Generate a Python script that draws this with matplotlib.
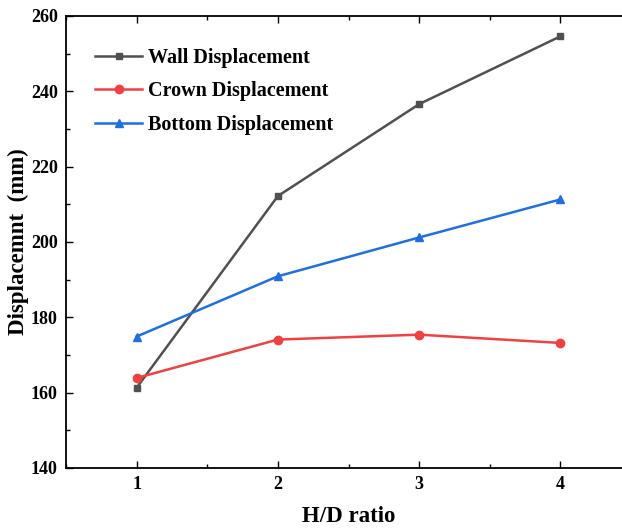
import matplotlib
matplotlib.use("Agg")
import matplotlib.pyplot as plt
from matplotlib.ticker import MultipleLocator

# H/D ratio vs displacement (mm)
hd_ratio = [1, 2, 3, 4]
wall = [161.3, 212.2, 236.6, 254.6]
crown = [163.9, 174.1, 175.4, 173.2]
bottom = [174.9, 190.9, 201.2, 211.3]

plt.rcParams['font.family'] = ['Liberation Serif', 'DejaVu Serif']
plt.rcParams['font.weight'] = 'bold'

fig = plt.figure(figsize=(6.22, 5.31), dpi=100)
ax = fig.add_axes([66 / 622, 63 / 531, 565 / 622, 452 / 531])

ax.plot(hd_ratio, wall, color='#505050', linewidth=1.8, marker='s', markersize=5, label='Wall Displacement')
ax.plot(hd_ratio, crown, color='#f04040', linewidth=1.8, marker='o', markersize=6, label='Crown Displacement')
ax.plot(hd_ratio, bottom, color='#1f6fe0', linewidth=1.8, marker='^', markersize=6, label='Bottom Displacement')

ax.set_xlim(0.5, 4.5)
ax.set_ylim(140, 260)
ax.set_xticks(hd_ratio)
ax.xaxis.set_minor_locator(MultipleLocator(0.5))
ax.yaxis.set_major_locator(MultipleLocator(20))
ax.yaxis.set_minor_locator(MultipleLocator(10))
ax.tick_params(which='both', direction='in', top=True, right=False, labelsize=13, width=1)
ax.tick_params(which='major', length=5, pad=6)
ax.tick_params(which='minor', length=3)
for s in ['left', 'bottom', 'top']:
    ax.spines[s].set_linewidth(1.3)
ax.spines['right'].set_visible(False)

ax.set_xlabel('H/D ratio', fontsize=16.5, fontweight='bold', labelpad=9)
ax.set_ylabel('Displacemnt  (mm)', fontsize=16.5, fontweight='bold', labelpad=1)

ax.legend(loc='upper left', bbox_to_anchor=(0.02, 0.97), frameon=False, fontsize=14.5,
          handlelength=2.3, handletextpad=0.3, labelspacing=0.68)

plt.savefig("out.png", dpi=100)
